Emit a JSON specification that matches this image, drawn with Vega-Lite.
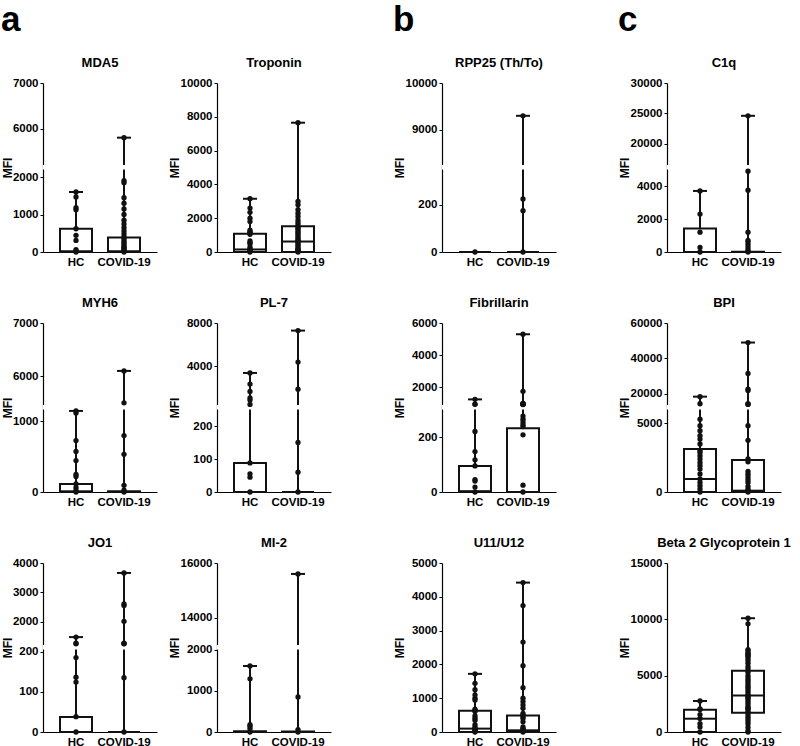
{
"$schema":"https://vega.github.io/schema/vega-lite/v6.json",
"padding":{"left":1,"top":3,"right":0,"bottom":0},
"spacing":62,
"data":{"values":[
{"p":"MDA5","g":"HC","k":"w","y":1600,"y2":0},{"p":"MDA5","g":"HC","k":"b","y":0,"y2":620},{"p":"MDA5","g":"HC","k":"m","y":20},
{"p":"MDA5","g":"COVID-19","k":"w","y":5800,"y2":0},{"p":"MDA5","g":"COVID-19","k":"b","y":0,"y2":390},{"p":"MDA5","g":"COVID-19","k":"m","y":20},
{"p":"MDA5","k":"x","y":2200,"y2":5200},
{"p":"MDA5","g":"HC","k":"p","y":1600},{"p":"MDA5","g":"HC","k":"p","y":1470},{"p":"MDA5","g":"HC","k":"p","y":1180},{"p":"MDA5","g":"HC","k":"p","y":1130},{"p":"MDA5","g":"HC","k":"p","y":620},{"p":"MDA5","g":"HC","k":"p","y":445},{"p":"MDA5","g":"HC","k":"p","y":310},{"p":"MDA5","g":"HC","k":"p","y":60},{"p":"MDA5","g":"HC","k":"p","y":30},{"p":"MDA5","g":"HC","k":"p","y":0},
{"p":"MDA5","g":"COVID-19","k":"p","y":5800},{"p":"MDA5","g":"COVID-19","k":"p","y":1900},{"p":"MDA5","g":"COVID-19","k":"p","y":1850},{"p":"MDA5","g":"COVID-19","k":"p","y":1450},{"p":"MDA5","g":"COVID-19","k":"p","y":1300},{"p":"MDA5","g":"COVID-19","k":"p","y":1150},{"p":"MDA5","g":"COVID-19","k":"p","y":1000},{"p":"MDA5","g":"COVID-19","k":"p","y":850},{"p":"MDA5","g":"COVID-19","k":"p","y":750},{"p":"MDA5","g":"COVID-19","k":"p","y":650},{"p":"MDA5","g":"COVID-19","k":"p","y":560},{"p":"MDA5","g":"COVID-19","k":"p","y":480},{"p":"MDA5","g":"COVID-19","k":"p","y":400},{"p":"MDA5","g":"COVID-19","k":"p","y":360},{"p":"MDA5","g":"COVID-19","k":"p","y":300},{"p":"MDA5","g":"COVID-19","k":"p","y":250},{"p":"MDA5","g":"COVID-19","k":"p","y":200},{"p":"MDA5","g":"COVID-19","k":"p","y":150},{"p":"MDA5","g":"COVID-19","k":"p","y":120},{"p":"MDA5","g":"COVID-19","k":"p","y":90},{"p":"MDA5","g":"COVID-19","k":"p","y":60},{"p":"MDA5","g":"COVID-19","k":"p","y":30},{"p":"MDA5","g":"COVID-19","k":"p","y":0},

{"p":"Troponin","g":"HC","k":"w","y":3150,"y2":0},{"p":"Troponin","g":"HC","k":"b","y":0,"y2":1080},{"p":"Troponin","g":"HC","k":"m","y":150},
{"p":"Troponin","g":"COVID-19","k":"w","y":7650,"y2":0},{"p":"Troponin","g":"COVID-19","k":"b","y":0,"y2":1520},{"p":"Troponin","g":"COVID-19","k":"m","y":620},
{"p":"Troponin","g":"HC","k":"p","y":3150},{"p":"Troponin","g":"HC","k":"p","y":2600},{"p":"Troponin","g":"HC","k":"p","y":2350},{"p":"Troponin","g":"HC","k":"p","y":2000},{"p":"Troponin","g":"HC","k":"p","y":1800},{"p":"Troponin","g":"HC","k":"p","y":1300},{"p":"Troponin","g":"HC","k":"p","y":1200},{"p":"Troponin","g":"HC","k":"p","y":1150},{"p":"Troponin","g":"HC","k":"p","y":1050},{"p":"Troponin","g":"HC","k":"p","y":650},{"p":"Troponin","g":"HC","k":"p","y":550},{"p":"Troponin","g":"HC","k":"p","y":500},{"p":"Troponin","g":"HC","k":"p","y":300},{"p":"Troponin","g":"HC","k":"p","y":200},{"p":"Troponin","g":"HC","k":"p","y":100},{"p":"Troponin","g":"HC","k":"p","y":50},{"p":"Troponin","g":"HC","k":"p","y":0},
{"p":"Troponin","g":"COVID-19","k":"p","y":7650},{"p":"Troponin","g":"COVID-19","k":"p","y":3000},{"p":"Troponin","g":"COVID-19","k":"p","y":2800},{"p":"Troponin","g":"COVID-19","k":"p","y":2500},{"p":"Troponin","g":"COVID-19","k":"p","y":2300},{"p":"Troponin","g":"COVID-19","k":"p","y":2100},{"p":"Troponin","g":"COVID-19","k":"p","y":1900},{"p":"Troponin","g":"COVID-19","k":"p","y":1750},{"p":"Troponin","g":"COVID-19","k":"p","y":1600},{"p":"Troponin","g":"COVID-19","k":"p","y":1500},{"p":"Troponin","g":"COVID-19","k":"p","y":1400},{"p":"Troponin","g":"COVID-19","k":"p","y":1300},{"p":"Troponin","g":"COVID-19","k":"p","y":1200},{"p":"Troponin","g":"COVID-19","k":"p","y":1100},{"p":"Troponin","g":"COVID-19","k":"p","y":1000},{"p":"Troponin","g":"COVID-19","k":"p","y":900},{"p":"Troponin","g":"COVID-19","k":"p","y":800},{"p":"Troponin","g":"COVID-19","k":"p","y":700},{"p":"Troponin","g":"COVID-19","k":"p","y":650},{"p":"Troponin","g":"COVID-19","k":"p","y":600},{"p":"Troponin","g":"COVID-19","k":"p","y":500},{"p":"Troponin","g":"COVID-19","k":"p","y":400},{"p":"Troponin","g":"COVID-19","k":"p","y":300},{"p":"Troponin","g":"COVID-19","k":"p","y":200},{"p":"Troponin","g":"COVID-19","k":"p","y":150},{"p":"Troponin","g":"COVID-19","k":"p","y":100},{"p":"Troponin","g":"COVID-19","k":"p","y":50},{"p":"Troponin","g":"COVID-19","k":"p","y":0},

{"p":"RPP25 (Th/To)","g":"HC","k":"w","y":0,"y2":0},{"p":"RPP25 (Th/To)","g":"HC","k":"b","y":0,"y2":0},{"p":"RPP25 (Th/To)","g":"HC","k":"m","y":0},
{"p":"RPP25 (Th/To)","g":"COVID-19","k":"w","y":9300,"y2":0},{"p":"RPP25 (Th/To)","g":"COVID-19","k":"b","y":0,"y2":0},{"p":"RPP25 (Th/To)","g":"COVID-19","k":"m","y":0},
{"p":"RPP25 (Th/To)","k":"x","y":350,"y2":8250},
{"p":"RPP25 (Th/To)","g":"HC","k":"p","y":0},
{"p":"RPP25 (Th/To)","g":"COVID-19","k":"p","y":9300},{"p":"RPP25 (Th/To)","g":"COVID-19","k":"p","y":225},{"p":"RPP25 (Th/To)","g":"COVID-19","k":"p","y":175},{"p":"RPP25 (Th/To)","g":"COVID-19","k":"p","y":0},

{"p":"C1q","g":"HC","k":"w","y":3700,"y2":0},{"p":"C1q","g":"HC","k":"b","y":0,"y2":1420},{"p":"C1q","g":"HC","k":"m","y":0},
{"p":"C1q","g":"COVID-19","k":"w","y":24600,"y2":0},{"p":"C1q","g":"COVID-19","k":"b","y":0,"y2":20},{"p":"C1q","g":"COVID-19","k":"m","y":0},
{"p":"C1q","k":"x","y":5000,"y2":16500},
{"p":"C1q","g":"HC","k":"p","y":3700},{"p":"C1q","g":"HC","k":"p","y":2300},{"p":"C1q","g":"HC","k":"p","y":1200},{"p":"C1q","g":"HC","k":"p","y":280},{"p":"C1q","g":"HC","k":"p","y":0},
{"p":"C1q","g":"COVID-19","k":"p","y":24600},{"p":"C1q","g":"COVID-19","k":"p","y":4900},{"p":"C1q","g":"COVID-19","k":"p","y":3750},{"p":"C1q","g":"COVID-19","k":"p","y":1200},{"p":"C1q","g":"COVID-19","k":"p","y":700},{"p":"C1q","g":"COVID-19","k":"p","y":600},{"p":"C1q","g":"COVID-19","k":"p","y":450},{"p":"C1q","g":"COVID-19","k":"p","y":300},{"p":"C1q","g":"COVID-19","k":"p","y":150},{"p":"C1q","g":"COVID-19","k":"p","y":50},{"p":"C1q","g":"COVID-19","k":"p","y":0},

{"p":"MYH6","g":"HC","k":"w","y":1150,"y2":0},{"p":"MYH6","g":"HC","k":"b","y":0,"y2":115},{"p":"MYH6","g":"HC","k":"m","y":10},
{"p":"MYH6","g":"COVID-19","k":"w","y":6100,"y2":0},{"p":"MYH6","g":"COVID-19","k":"b","y":0,"y2":10},{"p":"MYH6","g":"COVID-19","k":"m","y":0},
{"p":"MYH6","k":"x","y":1170,"y2":5460},
{"p":"MYH6","g":"HC","k":"p","y":1150},{"p":"MYH6","g":"HC","k":"p","y":1120},{"p":"MYH6","g":"HC","k":"p","y":730},{"p":"MYH6","g":"HC","k":"p","y":575},{"p":"MYH6","g":"HC","k":"p","y":445},{"p":"MYH6","g":"HC","k":"p","y":250},{"p":"MYH6","g":"HC","k":"p","y":220},{"p":"MYH6","g":"HC","k":"p","y":115},{"p":"MYH6","g":"HC","k":"p","y":60},{"p":"MYH6","g":"HC","k":"p","y":20},{"p":"MYH6","g":"HC","k":"p","y":0},
{"p":"MYH6","g":"COVID-19","k":"p","y":6100},{"p":"MYH6","g":"COVID-19","k":"p","y":5500},{"p":"MYH6","g":"COVID-19","k":"p","y":800},{"p":"MYH6","g":"COVID-19","k":"p","y":535},{"p":"MYH6","g":"COVID-19","k":"p","y":95},{"p":"MYH6","g":"COVID-19","k":"p","y":25},{"p":"MYH6","g":"COVID-19","k":"p","y":0},

{"p":"PL-7","g":"HC","k":"w","y":3400,"y2":0},{"p":"PL-7","g":"HC","k":"b","y":0,"y2":88},{"p":"PL-7","g":"HC","k":"m","y":0},
{"p":"PL-7","g":"COVID-19","k":"w","y":7300,"y2":0},{"p":"PL-7","g":"COVID-19","k":"b","y":0,"y2":0},{"p":"PL-7","g":"COVID-19","k":"m","y":0},
{"p":"PL-7","k":"x","y":250,"y2":450},
{"p":"PL-7","g":"HC","k":"p","y":3400},{"p":"PL-7","g":"HC","k":"p","y":2380},{"p":"PL-7","g":"HC","k":"p","y":1700},{"p":"PL-7","g":"HC","k":"p","y":1100},{"p":"PL-7","g":"HC","k":"p","y":900},{"p":"PL-7","g":"HC","k":"p","y":500},{"p":"PL-7","g":"HC","k":"p","y":88},{"p":"PL-7","g":"HC","k":"p","y":55},{"p":"PL-7","g":"HC","k":"p","y":45},{"p":"PL-7","g":"HC","k":"p","y":0},
{"p":"PL-7","g":"COVID-19","k":"p","y":7300},{"p":"PL-7","g":"COVID-19","k":"p","y":4400},{"p":"PL-7","g":"COVID-19","k":"p","y":1900},{"p":"PL-7","g":"COVID-19","k":"p","y":150},{"p":"PL-7","g":"COVID-19","k":"p","y":60},{"p":"PL-7","g":"COVID-19","k":"p","y":0},

{"p":"Fibrillarin","g":"HC","k":"w","y":1250,"y2":0},{"p":"Fibrillarin","g":"HC","k":"b","y":0,"y2":95},{"p":"Fibrillarin","g":"HC","k":"m","y":3},
{"p":"Fibrillarin","g":"COVID-19","k":"w","y":5300,"y2":0},{"p":"Fibrillarin","g":"COVID-19","k":"b","y":0,"y2":232},{"p":"Fibrillarin","g":"COVID-19","k":"m","y":0},
{"p":"Fibrillarin","k":"x","y":300,"y2":900},
{"p":"Fibrillarin","g":"HC","k":"p","y":1250},{"p":"Fibrillarin","g":"HC","k":"p","y":960},{"p":"Fibrillarin","g":"HC","k":"p","y":940},{"p":"Fibrillarin","g":"HC","k":"p","y":220},{"p":"Fibrillarin","g":"HC","k":"p","y":147},{"p":"Fibrillarin","g":"HC","k":"p","y":117},{"p":"Fibrillarin","g":"HC","k":"p","y":95},{"p":"Fibrillarin","g":"HC","k":"p","y":45},{"p":"Fibrillarin","g":"HC","k":"p","y":40},{"p":"Fibrillarin","g":"HC","k":"p","y":18},{"p":"Fibrillarin","g":"HC","k":"p","y":0},
{"p":"Fibrillarin","g":"COVID-19","k":"p","y":5300},{"p":"Fibrillarin","g":"COVID-19","k":"p","y":1750},{"p":"Fibrillarin","g":"COVID-19","k":"p","y":1000},{"p":"Fibrillarin","g":"COVID-19","k":"p","y":980},{"p":"Fibrillarin","g":"COVID-19","k":"p","y":960},{"p":"Fibrillarin","g":"COVID-19","k":"p","y":950},{"p":"Fibrillarin","g":"COVID-19","k":"p","y":940},{"p":"Fibrillarin","g":"COVID-19","k":"p","y":930},{"p":"Fibrillarin","g":"COVID-19","k":"p","y":276},{"p":"Fibrillarin","g":"COVID-19","k":"p","y":265},{"p":"Fibrillarin","g":"COVID-19","k":"p","y":255},{"p":"Fibrillarin","g":"COVID-19","k":"p","y":245},{"p":"Fibrillarin","g":"COVID-19","k":"p","y":238},{"p":"Fibrillarin","g":"COVID-19","k":"p","y":208},{"p":"Fibrillarin","g":"COVID-19","k":"p","y":25},{"p":"Fibrillarin","g":"COVID-19","k":"p","y":0},

{"p":"BPI","g":"HC","k":"w","y":18500,"y2":0},{"p":"BPI","g":"HC","k":"b","y":0,"y2":3130},{"p":"BPI","g":"HC","k":"m","y":945},
{"p":"BPI","g":"COVID-19","k":"w","y":49000,"y2":0},{"p":"BPI","g":"COVID-19","k":"b","y":0,"y2":2330},{"p":"BPI","g":"COVID-19","k":"m","y":95},
{"p":"BPI","k":"x","y":6000,"y2":13800},
{"p":"BPI","g":"HC","k":"p","y":18500},{"p":"BPI","g":"HC","k":"p","y":14500},{"p":"BPI","g":"HC","k":"p","y":5300},{"p":"BPI","g":"HC","k":"p","y":4820},{"p":"BPI","g":"HC","k":"p","y":4460},{"p":"BPI","g":"HC","k":"p","y":4100},{"p":"BPI","g":"HC","k":"p","y":3850},{"p":"BPI","g":"HC","k":"p","y":3490},{"p":"BPI","g":"HC","k":"p","y":3000},{"p":"BPI","g":"HC","k":"p","y":2880},{"p":"BPI","g":"HC","k":"p","y":2640},{"p":"BPI","g":"HC","k":"p","y":2400},{"p":"BPI","g":"HC","k":"p","y":2150},{"p":"BPI","g":"HC","k":"p","y":1910},{"p":"BPI","g":"HC","k":"p","y":1670},{"p":"BPI","g":"HC","k":"p","y":1310},{"p":"BPI","g":"HC","k":"p","y":945},{"p":"BPI","g":"HC","k":"p","y":700},{"p":"BPI","g":"HC","k":"p","y":460},{"p":"BPI","g":"HC","k":"p","y":220},{"p":"BPI","g":"HC","k":"p","y":0},
{"p":"BPI","g":"COVID-19","k":"p","y":49000},{"p":"BPI","g":"COVID-19","k":"p","y":31600},{"p":"BPI","g":"COVID-19","k":"p","y":22800},{"p":"BPI","g":"COVID-19","k":"p","y":22000},{"p":"BPI","g":"COVID-19","k":"p","y":14500},{"p":"BPI","g":"COVID-19","k":"p","y":14300},{"p":"BPI","g":"COVID-19","k":"p","y":14100},{"p":"BPI","g":"COVID-19","k":"p","y":4820},{"p":"BPI","g":"COVID-19","k":"p","y":3760},{"p":"BPI","g":"COVID-19","k":"p","y":2400},{"p":"BPI","g":"COVID-19","k":"p","y":2200},{"p":"BPI","g":"COVID-19","k":"p","y":1500},{"p":"BPI","g":"COVID-19","k":"p","y":1300},{"p":"BPI","g":"COVID-19","k":"p","y":1100},{"p":"BPI","g":"COVID-19","k":"p","y":900},{"p":"BPI","g":"COVID-19","k":"p","y":700},{"p":"BPI","g":"COVID-19","k":"p","y":400},{"p":"BPI","g":"COVID-19","k":"p","y":200},{"p":"BPI","g":"COVID-19","k":"p","y":95},{"p":"BPI","g":"COVID-19","k":"p","y":0},

{"p":"JO1","g":"HC","k":"w","y":1470,"y2":0},{"p":"JO1","g":"HC","k":"b","y":0,"y2":37},{"p":"JO1","g":"HC","k":"m","y":0},
{"p":"JO1","g":"COVID-19","k":"w","y":3660,"y2":0},{"p":"JO1","g":"COVID-19","k":"b","y":0,"y2":0},{"p":"JO1","g":"COVID-19","k":"m","y":0},
{"p":"JO1","k":"x","y":205,"y2":1200},
{"p":"JO1","g":"HC","k":"p","y":1470},{"p":"JO1","g":"HC","k":"p","y":1260},{"p":"JO1","g":"HC","k":"p","y":1240},{"p":"JO1","g":"HC","k":"p","y":185},{"p":"JO1","g":"HC","k":"p","y":136},{"p":"JO1","g":"HC","k":"p","y":124},{"p":"JO1","g":"HC","k":"p","y":38},{"p":"JO1","g":"HC","k":"p","y":0},
{"p":"JO1","g":"COVID-19","k":"p","y":3660},{"p":"JO1","g":"COVID-19","k":"p","y":2600},{"p":"JO1","g":"COVID-19","k":"p","y":2550},{"p":"JO1","g":"COVID-19","k":"p","y":2007},{"p":"JO1","g":"COVID-19","k":"p","y":1260},{"p":"JO1","g":"COVID-19","k":"p","y":1250},{"p":"JO1","g":"COVID-19","k":"p","y":1240},{"p":"JO1","g":"COVID-19","k":"p","y":135},{"p":"JO1","g":"COVID-19","k":"p","y":0},

{"p":"MI-2","g":"HC","k":"w","y":1600,"y2":0},{"p":"MI-2","g":"HC","k":"b","y":0,"y2":20},{"p":"MI-2","g":"HC","k":"m","y":0},
{"p":"MI-2","g":"COVID-19","k":"w","y":15600,"y2":0},{"p":"MI-2","g":"COVID-19","k":"b","y":0,"y2":15},{"p":"MI-2","g":"COVID-19","k":"m","y":0},
{"p":"MI-2","k":"x","y":2000,"y2":13000},
{"p":"MI-2","g":"HC","k":"p","y":1600},{"p":"MI-2","g":"HC","k":"p","y":1290},{"p":"MI-2","g":"HC","k":"p","y":177},{"p":"MI-2","g":"HC","k":"p","y":140},{"p":"MI-2","g":"HC","k":"p","y":80},{"p":"MI-2","g":"HC","k":"p","y":0},
{"p":"MI-2","g":"COVID-19","k":"p","y":15600},{"p":"MI-2","g":"COVID-19","k":"p","y":850},{"p":"MI-2","g":"COVID-19","k":"p","y":60},{"p":"MI-2","g":"COVID-19","k":"p","y":0},

{"p":"U11/U12","g":"HC","k":"w","y":1720,"y2":0},{"p":"U11/U12","g":"HC","k":"b","y":0,"y2":626},{"p":"U11/U12","g":"HC","k":"m","y":100},
{"p":"U11/U12","g":"COVID-19","k":"w","y":4420,"y2":0},{"p":"U11/U12","g":"COVID-19","k":"b","y":0,"y2":490},{"p":"U11/U12","g":"COVID-19","k":"m","y":50},
{"p":"U11/U12","g":"HC","k":"p","y":1720},{"p":"U11/U12","g":"HC","k":"p","y":1440},{"p":"U11/U12","g":"HC","k":"p","y":1250},{"p":"U11/U12","g":"HC","k":"p","y":1100},{"p":"U11/U12","g":"HC","k":"p","y":1000},{"p":"U11/U12","g":"HC","k":"p","y":950},{"p":"U11/U12","g":"HC","k":"p","y":676},{"p":"U11/U12","g":"HC","k":"p","y":640},{"p":"U11/U12","g":"HC","k":"p","y":605},{"p":"U11/U12","g":"HC","k":"p","y":480},{"p":"U11/U12","g":"HC","k":"p","y":410},{"p":"U11/U12","g":"HC","k":"p","y":350},{"p":"U11/U12","g":"HC","k":"p","y":215},{"p":"U11/U12","g":"HC","k":"p","y":150},{"p":"U11/U12","g":"HC","k":"p","y":100},{"p":"U11/U12","g":"HC","k":"p","y":80},{"p":"U11/U12","g":"HC","k":"p","y":50},{"p":"U11/U12","g":"HC","k":"p","y":20},{"p":"U11/U12","g":"HC","k":"p","y":0},
{"p":"U11/U12","g":"COVID-19","k":"p","y":4420},{"p":"U11/U12","g":"COVID-19","k":"p","y":3740},{"p":"U11/U12","g":"COVID-19","k":"p","y":2660},{"p":"U11/U12","g":"COVID-19","k":"p","y":1960},{"p":"U11/U12","g":"COVID-19","k":"p","y":1310},{"p":"U11/U12","g":"COVID-19","k":"p","y":1000},{"p":"U11/U12","g":"COVID-19","k":"p","y":900},{"p":"U11/U12","g":"COVID-19","k":"p","y":800},{"p":"U11/U12","g":"COVID-19","k":"p","y":700},{"p":"U11/U12","g":"COVID-19","k":"p","y":550},{"p":"U11/U12","g":"COVID-19","k":"p","y":500},{"p":"U11/U12","g":"COVID-19","k":"p","y":450},{"p":"U11/U12","g":"COVID-19","k":"p","y":400},{"p":"U11/U12","g":"COVID-19","k":"p","y":300},{"p":"U11/U12","g":"COVID-19","k":"p","y":150},{"p":"U11/U12","g":"COVID-19","k":"p","y":100},{"p":"U11/U12","g":"COVID-19","k":"p","y":80},{"p":"U11/U12","g":"COVID-19","k":"p","y":40},{"p":"U11/U12","g":"COVID-19","k":"p","y":0},

{"p":"Beta 2 Glycoprotein 1","g":"HC","k":"w","y":2750,"y2":0},{"p":"Beta 2 Glycoprotein 1","g":"HC","k":"b","y":0,"y2":1975},{"p":"Beta 2 Glycoprotein 1","g":"HC","k":"m","y":1180},
{"p":"Beta 2 Glycoprotein 1","g":"COVID-19","k":"w","y":10100,"y2":0},{"p":"Beta 2 Glycoprotein 1","g":"COVID-19","k":"b","y":1710,"y2":5440},{"p":"Beta 2 Glycoprotein 1","g":"COVID-19","k":"m","y":3240},
{"p":"Beta 2 Glycoprotein 1","g":"HC","k":"p","y":2750},{"p":"Beta 2 Glycoprotein 1","g":"HC","k":"p","y":2050},{"p":"Beta 2 Glycoprotein 1","g":"HC","k":"p","y":2000},{"p":"Beta 2 Glycoprotein 1","g":"HC","k":"p","y":1550},{"p":"Beta 2 Glycoprotein 1","g":"HC","k":"p","y":1200},{"p":"Beta 2 Glycoprotein 1","g":"HC","k":"p","y":750},{"p":"Beta 2 Glycoprotein 1","g":"HC","k":"p","y":450},{"p":"Beta 2 Glycoprotein 1","g":"HC","k":"p","y":0},
{"p":"Beta 2 Glycoprotein 1","g":"COVID-19","k":"p","y":10100},{"p":"Beta 2 Glycoprotein 1","g":"COVID-19","k":"p","y":9600},{"p":"Beta 2 Glycoprotein 1","g":"COVID-19","k":"p","y":7300},{"p":"Beta 2 Glycoprotein 1","g":"COVID-19","k":"p","y":7200},{"p":"Beta 2 Glycoprotein 1","g":"COVID-19","k":"p","y":7000},{"p":"Beta 2 Glycoprotein 1","g":"COVID-19","k":"p","y":6900},{"p":"Beta 2 Glycoprotein 1","g":"COVID-19","k":"p","y":6800},{"p":"Beta 2 Glycoprotein 1","g":"COVID-19","k":"p","y":6700},{"p":"Beta 2 Glycoprotein 1","g":"COVID-19","k":"p","y":6500},{"p":"Beta 2 Glycoprotein 1","g":"COVID-19","k":"p","y":6300},{"p":"Beta 2 Glycoprotein 1","g":"COVID-19","k":"p","y":6100},{"p":"Beta 2 Glycoprotein 1","g":"COVID-19","k":"p","y":5800},{"p":"Beta 2 Glycoprotein 1","g":"COVID-19","k":"p","y":5600},{"p":"Beta 2 Glycoprotein 1","g":"COVID-19","k":"p","y":5300},{"p":"Beta 2 Glycoprotein 1","g":"COVID-19","k":"p","y":5000},{"p":"Beta 2 Glycoprotein 1","g":"COVID-19","k":"p","y":4800},{"p":"Beta 2 Glycoprotein 1","g":"COVID-19","k":"p","y":4600},{"p":"Beta 2 Glycoprotein 1","g":"COVID-19","k":"p","y":4400},{"p":"Beta 2 Glycoprotein 1","g":"COVID-19","k":"p","y":4200},{"p":"Beta 2 Glycoprotein 1","g":"COVID-19","k":"p","y":4000},{"p":"Beta 2 Glycoprotein 1","g":"COVID-19","k":"p","y":3900},{"p":"Beta 2 Glycoprotein 1","g":"COVID-19","k":"p","y":3700},{"p":"Beta 2 Glycoprotein 1","g":"COVID-19","k":"p","y":3500},{"p":"Beta 2 Glycoprotein 1","g":"COVID-19","k":"p","y":3300},{"p":"Beta 2 Glycoprotein 1","g":"COVID-19","k":"p","y":3200},{"p":"Beta 2 Glycoprotein 1","g":"COVID-19","k":"p","y":3100},{"p":"Beta 2 Glycoprotein 1","g":"COVID-19","k":"p","y":3000},{"p":"Beta 2 Glycoprotein 1","g":"COVID-19","k":"p","y":2800},{"p":"Beta 2 Glycoprotein 1","g":"COVID-19","k":"p","y":2600},{"p":"Beta 2 Glycoprotein 1","g":"COVID-19","k":"p","y":2400},{"p":"Beta 2 Glycoprotein 1","g":"COVID-19","k":"p","y":2200},{"p":"Beta 2 Glycoprotein 1","g":"COVID-19","k":"p","y":2100},{"p":"Beta 2 Glycoprotein 1","g":"COVID-19","k":"p","y":2000},{"p":"Beta 2 Glycoprotein 1","g":"COVID-19","k":"p","y":1800},{"p":"Beta 2 Glycoprotein 1","g":"COVID-19","k":"p","y":1700},{"p":"Beta 2 Glycoprotein 1","g":"COVID-19","k":"p","y":1500},{"p":"Beta 2 Glycoprotein 1","g":"COVID-19","k":"p","y":1300},{"p":"Beta 2 Glycoprotein 1","g":"COVID-19","k":"p","y":1100},{"p":"Beta 2 Glycoprotein 1","g":"COVID-19","k":"p","y":900},{"p":"Beta 2 Glycoprotein 1","g":"COVID-19","k":"p","y":700},{"p":"Beta 2 Glycoprotein 1","g":"COVID-19","k":"p","y":400},{"p":"Beta 2 Glycoprotein 1","g":"COVID-19","k":"p","y":100},{"p":"Beta 2 Glycoprotein 1","g":"COVID-19","k":"p","y":0}
]},
"hconcat":[
{"title":{"text":"a","anchor":"start","frame":"bounds","fontSize":35,"baseline":"top","offset":19},
 "columns":2,"align":"each","spacing":{"column":11,"row":29},
 "concat":[
 {"title":"MDA5","width":114,"height":169,"transform":[{"filter":{"field":"p","equal":"MDA5"}}],
  "encoding":{"y":{"field":"y","type":"quantitative","title":"MFI","scale":{"domain":[0,2200,5200,7000],"range":[169,86.5,82,0],"nice":false,"zero":false},"axis":{"values":[0,1000,2000,6000,7000],"format":"d","titlePadding":-7}}},
  "layer":[
   {"transform":[{"filter":{"field":"k","equal":"w"}}],"mark":{"type":"rule","strokeWidth":2,"color":"#111"},"encoding":{"x":{"field":"g","type":"nominal","title":null,"sort":["HC","COVID-19"],"scale":{"type":"band","paddingInner":0,"paddingOuter":0.1875}},"y2":{"field":"y2"}}},
   {"transform":[{"filter":{"field":"k","equal":"b"}}],"mark":{"type":"bar","size":32,"fill":"#fff","stroke":"#111","strokeWidth":2},"encoding":{"x":{"field":"g","type":"nominal","title":null,"sort":["HC","COVID-19"],"scale":{"type":"band","paddingInner":0,"paddingOuter":0.1875}},"y2":{"field":"y2"}}},
   {"transform":[{"filter":{"field":"k","equal":"m"}}],"mark":{"type":"tick","size":32,"thickness":2,"color":"#111","opacity":1},"encoding":{"x":{"field":"g","type":"nominal","title":null,"sort":["HC","COVID-19"],"scale":{"type":"band","paddingInner":0,"paddingOuter":0.1875}}}},
   {"transform":[{"filter":{"field":"k","equal":"w"}}],"mark":{"type":"tick","size":14,"thickness":2,"color":"#111","opacity":1},"encoding":{"x":{"field":"g","type":"nominal","title":null,"sort":["HC","COVID-19"],"scale":{"type":"band","paddingInner":0,"paddingOuter":0.1875}}}},
   {"transform":[{"filter":{"field":"k","equal":"x"}}],"mark":{"type":"rect","color":"#fff"},"encoding":{"y2":{"field":"y2"}}},
   {"transform":[{"filter":{"field":"k","equal":"p"}}],"mark":{"type":"circle","size":28,"color":"#111","opacity":1},"encoding":{"x":{"field":"g","type":"nominal","title":null,"sort":["HC","COVID-19"],"scale":{"type":"band","paddingInner":0,"paddingOuter":0.1875}}}}
  ]},
 {"title":"Troponin","width":114,"height":169,"transform":[{"filter":{"field":"p","equal":"Troponin"}}],
  "encoding":{"y":{"field":"y","type":"quantitative","title":"MFI","scale":{"domain":[0,10000],"range":[169,0],"nice":false,"zero":false},"axis":{"values":[0,2000,4000,6000,8000,10000],"format":"d"}}},
  "layer":[
   {"transform":[{"filter":{"field":"k","equal":"w"}}],"mark":{"type":"rule","strokeWidth":2,"color":"#111"},"encoding":{"x":{"field":"g","type":"nominal","title":null,"sort":["HC","COVID-19"],"scale":{"type":"band","paddingInner":0,"paddingOuter":0.1875}},"y2":{"field":"y2"}}},
   {"transform":[{"filter":{"field":"k","equal":"b"}}],"mark":{"type":"bar","size":32,"fill":"#fff","stroke":"#111","strokeWidth":2},"encoding":{"x":{"field":"g","type":"nominal","title":null,"sort":["HC","COVID-19"],"scale":{"type":"band","paddingInner":0,"paddingOuter":0.1875}},"y2":{"field":"y2"}}},
   {"transform":[{"filter":{"field":"k","equal":"m"}}],"mark":{"type":"tick","size":32,"thickness":2,"color":"#111","opacity":1},"encoding":{"x":{"field":"g","type":"nominal","title":null,"sort":["HC","COVID-19"],"scale":{"type":"band","paddingInner":0,"paddingOuter":0.1875}}}},
   {"transform":[{"filter":{"field":"k","equal":"w"}}],"mark":{"type":"tick","size":14,"thickness":2,"color":"#111","opacity":1},"encoding":{"x":{"field":"g","type":"nominal","title":null,"sort":["HC","COVID-19"],"scale":{"type":"band","paddingInner":0,"paddingOuter":0.1875}}}},
   {"transform":[{"filter":{"field":"k","equal":"x"}}],"mark":{"type":"rect","color":"#fff"},"encoding":{"y2":{"field":"y2"}}},
   {"transform":[{"filter":{"field":"k","equal":"p"}}],"mark":{"type":"circle","size":28,"color":"#111","opacity":1},"encoding":{"x":{"field":"g","type":"nominal","title":null,"sort":["HC","COVID-19"],"scale":{"type":"band","paddingInner":0,"paddingOuter":0.1875}}}}
  ]},
 {"title":"MYH6","width":114,"height":169,"transform":[{"filter":{"field":"p","equal":"MYH6"}}],
  "encoding":{"y":{"field":"y","type":"quantitative","title":"MFI","scale":{"domain":[0,1170,5460,7000],"range":[169,86.5,82,0],"nice":false,"zero":false},"axis":{"values":[0,1000,6000,7000],"format":"d","titlePadding":-7}}},
  "layer":[
   {"transform":[{"filter":{"field":"k","equal":"w"}}],"mark":{"type":"rule","strokeWidth":2,"color":"#111"},"encoding":{"x":{"field":"g","type":"nominal","title":null,"sort":["HC","COVID-19"],"scale":{"type":"band","paddingInner":0,"paddingOuter":0.1875}},"y2":{"field":"y2"}}},
   {"transform":[{"filter":{"field":"k","equal":"b"}}],"mark":{"type":"bar","size":32,"fill":"#fff","stroke":"#111","strokeWidth":2},"encoding":{"x":{"field":"g","type":"nominal","title":null,"sort":["HC","COVID-19"],"scale":{"type":"band","paddingInner":0,"paddingOuter":0.1875}},"y2":{"field":"y2"}}},
   {"transform":[{"filter":{"field":"k","equal":"m"}}],"mark":{"type":"tick","size":32,"thickness":2,"color":"#111","opacity":1},"encoding":{"x":{"field":"g","type":"nominal","title":null,"sort":["HC","COVID-19"],"scale":{"type":"band","paddingInner":0,"paddingOuter":0.1875}}}},
   {"transform":[{"filter":{"field":"k","equal":"w"}}],"mark":{"type":"tick","size":14,"thickness":2,"color":"#111","opacity":1},"encoding":{"x":{"field":"g","type":"nominal","title":null,"sort":["HC","COVID-19"],"scale":{"type":"band","paddingInner":0,"paddingOuter":0.1875}}}},
   {"transform":[{"filter":{"field":"k","equal":"x"}}],"mark":{"type":"rect","color":"#fff"},"encoding":{"y2":{"field":"y2"}}},
   {"transform":[{"filter":{"field":"k","equal":"p"}}],"mark":{"type":"circle","size":28,"color":"#111","opacity":1},"encoding":{"x":{"field":"g","type":"nominal","title":null,"sort":["HC","COVID-19"],"scale":{"type":"band","paddingInner":0,"paddingOuter":0.1875}}}}
  ]},
 {"title":"PL-7","width":114,"height":169,"transform":[{"filter":{"field":"p","equal":"PL-7"}}],
  "encoding":{"y":{"field":"y","type":"quantitative","title":"MFI","scale":{"domain":[0,250,450,8000],"range":[169,86.5,82,0],"nice":false,"zero":false},"axis":{"values":[0,100,200,4000,8000],"format":"d"}}},
  "layer":[
   {"transform":[{"filter":{"field":"k","equal":"w"}}],"mark":{"type":"rule","strokeWidth":2,"color":"#111"},"encoding":{"x":{"field":"g","type":"nominal","title":null,"sort":["HC","COVID-19"],"scale":{"type":"band","paddingInner":0,"paddingOuter":0.1875}},"y2":{"field":"y2"}}},
   {"transform":[{"filter":{"field":"k","equal":"b"}}],"mark":{"type":"bar","size":32,"fill":"#fff","stroke":"#111","strokeWidth":2},"encoding":{"x":{"field":"g","type":"nominal","title":null,"sort":["HC","COVID-19"],"scale":{"type":"band","paddingInner":0,"paddingOuter":0.1875}},"y2":{"field":"y2"}}},
   {"transform":[{"filter":{"field":"k","equal":"m"}}],"mark":{"type":"tick","size":32,"thickness":2,"color":"#111","opacity":1},"encoding":{"x":{"field":"g","type":"nominal","title":null,"sort":["HC","COVID-19"],"scale":{"type":"band","paddingInner":0,"paddingOuter":0.1875}}}},
   {"transform":[{"filter":{"field":"k","equal":"w"}}],"mark":{"type":"tick","size":14,"thickness":2,"color":"#111","opacity":1},"encoding":{"x":{"field":"g","type":"nominal","title":null,"sort":["HC","COVID-19"],"scale":{"type":"band","paddingInner":0,"paddingOuter":0.1875}}}},
   {"transform":[{"filter":{"field":"k","equal":"x"}}],"mark":{"type":"rect","color":"#fff"},"encoding":{"y2":{"field":"y2"}}},
   {"transform":[{"filter":{"field":"k","equal":"p"}}],"mark":{"type":"circle","size":28,"color":"#111","opacity":1},"encoding":{"x":{"field":"g","type":"nominal","title":null,"sort":["HC","COVID-19"],"scale":{"type":"band","paddingInner":0,"paddingOuter":0.1875}}}}
  ]},
 {"title":"JO1","width":114,"height":169,"transform":[{"filter":{"field":"p","equal":"JO1"}}],
  "encoding":{"y":{"field":"y","type":"quantitative","title":"MFI","scale":{"domain":[0,205,1200,4000],"range":[169,86.5,82,0],"nice":false,"zero":false},"axis":{"values":[0,100,200,2000,3000,4000],"format":"d","titlePadding":-7}}},
  "layer":[
   {"transform":[{"filter":{"field":"k","equal":"w"}}],"mark":{"type":"rule","strokeWidth":2,"color":"#111"},"encoding":{"x":{"field":"g","type":"nominal","title":null,"sort":["HC","COVID-19"],"scale":{"type":"band","paddingInner":0,"paddingOuter":0.1875}},"y2":{"field":"y2"}}},
   {"transform":[{"filter":{"field":"k","equal":"b"}}],"mark":{"type":"bar","size":32,"fill":"#fff","stroke":"#111","strokeWidth":2},"encoding":{"x":{"field":"g","type":"nominal","title":null,"sort":["HC","COVID-19"],"scale":{"type":"band","paddingInner":0,"paddingOuter":0.1875}},"y2":{"field":"y2"}}},
   {"transform":[{"filter":{"field":"k","equal":"m"}}],"mark":{"type":"tick","size":32,"thickness":2,"color":"#111","opacity":1},"encoding":{"x":{"field":"g","type":"nominal","title":null,"sort":["HC","COVID-19"],"scale":{"type":"band","paddingInner":0,"paddingOuter":0.1875}}}},
   {"transform":[{"filter":{"field":"k","equal":"w"}}],"mark":{"type":"tick","size":14,"thickness":2,"color":"#111","opacity":1},"encoding":{"x":{"field":"g","type":"nominal","title":null,"sort":["HC","COVID-19"],"scale":{"type":"band","paddingInner":0,"paddingOuter":0.1875}}}},
   {"transform":[{"filter":{"field":"k","equal":"x"}}],"mark":{"type":"rect","color":"#fff"},"encoding":{"y2":{"field":"y2"}}},
   {"transform":[{"filter":{"field":"k","equal":"p"}}],"mark":{"type":"circle","size":28,"color":"#111","opacity":1},"encoding":{"x":{"field":"g","type":"nominal","title":null,"sort":["HC","COVID-19"],"scale":{"type":"band","paddingInner":0,"paddingOuter":0.1875}}}}
  ]},
 {"title":"MI-2","width":114,"height":169,"transform":[{"filter":{"field":"p","equal":"MI-2"}}],
  "encoding":{"y":{"field":"y","type":"quantitative","title":"MFI","scale":{"domain":[0,2000,13000,16000],"range":[169,86.5,82,0],"nice":false,"zero":false},"axis":{"values":[0,1000,2000,14000,16000],"format":"d"}}},
  "layer":[
   {"transform":[{"filter":{"field":"k","equal":"w"}}],"mark":{"type":"rule","strokeWidth":2,"color":"#111"},"encoding":{"x":{"field":"g","type":"nominal","title":null,"sort":["HC","COVID-19"],"scale":{"type":"band","paddingInner":0,"paddingOuter":0.1875}},"y2":{"field":"y2"}}},
   {"transform":[{"filter":{"field":"k","equal":"b"}}],"mark":{"type":"bar","size":32,"fill":"#fff","stroke":"#111","strokeWidth":2},"encoding":{"x":{"field":"g","type":"nominal","title":null,"sort":["HC","COVID-19"],"scale":{"type":"band","paddingInner":0,"paddingOuter":0.1875}},"y2":{"field":"y2"}}},
   {"transform":[{"filter":{"field":"k","equal":"m"}}],"mark":{"type":"tick","size":32,"thickness":2,"color":"#111","opacity":1},"encoding":{"x":{"field":"g","type":"nominal","title":null,"sort":["HC","COVID-19"],"scale":{"type":"band","paddingInner":0,"paddingOuter":0.1875}}}},
   {"transform":[{"filter":{"field":"k","equal":"w"}}],"mark":{"type":"tick","size":14,"thickness":2,"color":"#111","opacity":1},"encoding":{"x":{"field":"g","type":"nominal","title":null,"sort":["HC","COVID-19"],"scale":{"type":"band","paddingInner":0,"paddingOuter":0.1875}}}},
   {"transform":[{"filter":{"field":"k","equal":"x"}}],"mark":{"type":"rect","color":"#fff"},"encoding":{"y2":{"field":"y2"}}},
   {"transform":[{"filter":{"field":"k","equal":"p"}}],"mark":{"type":"circle","size":28,"color":"#111","opacity":1},"encoding":{"x":{"field":"g","type":"nominal","title":null,"sort":["HC","COVID-19"],"scale":{"type":"band","paddingInner":0,"paddingOuter":0.1875}}}}
  ]}
 ]},
{"title":{"text":"b","anchor":"start","frame":"bounds","fontSize":35,"baseline":"top","offset":19},
 "spacing":29,
 "vconcat":[
 {"title":"RPP25 (Th/To)","width":114,"height":169,"transform":[{"filter":{"field":"p","equal":"RPP25 (Th/To)"}}],
  "encoding":{"y":{"field":"y","type":"quantitative","title":"MFI","scale":{"domain":[0,350,8250,10000],"range":[169,86.5,82,0],"nice":false,"zero":false},"axis":{"values":[0,200,9000,10000],"format":"d"}}},
  "layer":[
   {"transform":[{"filter":{"field":"k","equal":"w"}}],"mark":{"type":"rule","strokeWidth":2,"color":"#111"},"encoding":{"x":{"field":"g","type":"nominal","title":null,"sort":["HC","COVID-19"],"scale":{"type":"band","paddingInner":0,"paddingOuter":0.1875}},"y2":{"field":"y2"}}},
   {"transform":[{"filter":{"field":"k","equal":"b"}}],"mark":{"type":"bar","size":32,"fill":"#fff","stroke":"#111","strokeWidth":2},"encoding":{"x":{"field":"g","type":"nominal","title":null,"sort":["HC","COVID-19"],"scale":{"type":"band","paddingInner":0,"paddingOuter":0.1875}},"y2":{"field":"y2"}}},
   {"transform":[{"filter":{"field":"k","equal":"m"}}],"mark":{"type":"tick","size":32,"thickness":2,"color":"#111","opacity":1},"encoding":{"x":{"field":"g","type":"nominal","title":null,"sort":["HC","COVID-19"],"scale":{"type":"band","paddingInner":0,"paddingOuter":0.1875}}}},
   {"transform":[{"filter":{"field":"k","equal":"w"}}],"mark":{"type":"tick","size":14,"thickness":2,"color":"#111","opacity":1},"encoding":{"x":{"field":"g","type":"nominal","title":null,"sort":["HC","COVID-19"],"scale":{"type":"band","paddingInner":0,"paddingOuter":0.1875}}}},
   {"transform":[{"filter":{"field":"k","equal":"x"}}],"mark":{"type":"rect","color":"#fff"},"encoding":{"y2":{"field":"y2"}}},
   {"transform":[{"filter":{"field":"k","equal":"p"}}],"mark":{"type":"circle","size":28,"color":"#111","opacity":1},"encoding":{"x":{"field":"g","type":"nominal","title":null,"sort":["HC","COVID-19"],"scale":{"type":"band","paddingInner":0,"paddingOuter":0.1875}}}}
  ]},
 {"title":"Fibrillarin","width":114,"height":169,"transform":[{"filter":{"field":"p","equal":"Fibrillarin"}}],
  "encoding":{"y":{"field":"y","type":"quantitative","title":"MFI","scale":{"domain":[0,300,900,6000],"range":[169,86.5,82,0],"nice":false,"zero":false},"axis":{"values":[0,200,2000,4000,6000],"format":"d"}}},
  "layer":[
   {"transform":[{"filter":{"field":"k","equal":"w"}}],"mark":{"type":"rule","strokeWidth":2,"color":"#111"},"encoding":{"x":{"field":"g","type":"nominal","title":null,"sort":["HC","COVID-19"],"scale":{"type":"band","paddingInner":0,"paddingOuter":0.1875}},"y2":{"field":"y2"}}},
   {"transform":[{"filter":{"field":"k","equal":"b"}}],"mark":{"type":"bar","size":32,"fill":"#fff","stroke":"#111","strokeWidth":2},"encoding":{"x":{"field":"g","type":"nominal","title":null,"sort":["HC","COVID-19"],"scale":{"type":"band","paddingInner":0,"paddingOuter":0.1875}},"y2":{"field":"y2"}}},
   {"transform":[{"filter":{"field":"k","equal":"m"}}],"mark":{"type":"tick","size":32,"thickness":2,"color":"#111","opacity":1},"encoding":{"x":{"field":"g","type":"nominal","title":null,"sort":["HC","COVID-19"],"scale":{"type":"band","paddingInner":0,"paddingOuter":0.1875}}}},
   {"transform":[{"filter":{"field":"k","equal":"w"}}],"mark":{"type":"tick","size":14,"thickness":2,"color":"#111","opacity":1},"encoding":{"x":{"field":"g","type":"nominal","title":null,"sort":["HC","COVID-19"],"scale":{"type":"band","paddingInner":0,"paddingOuter":0.1875}}}},
   {"transform":[{"filter":{"field":"k","equal":"x"}}],"mark":{"type":"rect","color":"#fff"},"encoding":{"y2":{"field":"y2"}}},
   {"transform":[{"filter":{"field":"k","equal":"p"}}],"mark":{"type":"circle","size":28,"color":"#111","opacity":1},"encoding":{"x":{"field":"g","type":"nominal","title":null,"sort":["HC","COVID-19"],"scale":{"type":"band","paddingInner":0,"paddingOuter":0.1875}}}}
  ]},
 {"title":"U11/U12","width":114,"height":169,"transform":[{"filter":{"field":"p","equal":"U11/U12"}}],
  "encoding":{"y":{"field":"y","type":"quantitative","title":"MFI","scale":{"domain":[0,5000],"range":[169,0],"nice":false,"zero":false},"axis":{"values":[0,1000,2000,3000,4000,5000],"format":"d"}}},
  "layer":[
   {"transform":[{"filter":{"field":"k","equal":"w"}}],"mark":{"type":"rule","strokeWidth":2,"color":"#111"},"encoding":{"x":{"field":"g","type":"nominal","title":null,"sort":["HC","COVID-19"],"scale":{"type":"band","paddingInner":0,"paddingOuter":0.1875}},"y2":{"field":"y2"}}},
   {"transform":[{"filter":{"field":"k","equal":"b"}}],"mark":{"type":"bar","size":32,"fill":"#fff","stroke":"#111","strokeWidth":2},"encoding":{"x":{"field":"g","type":"nominal","title":null,"sort":["HC","COVID-19"],"scale":{"type":"band","paddingInner":0,"paddingOuter":0.1875}},"y2":{"field":"y2"}}},
   {"transform":[{"filter":{"field":"k","equal":"m"}}],"mark":{"type":"tick","size":32,"thickness":2,"color":"#111","opacity":1},"encoding":{"x":{"field":"g","type":"nominal","title":null,"sort":["HC","COVID-19"],"scale":{"type":"band","paddingInner":0,"paddingOuter":0.1875}}}},
   {"transform":[{"filter":{"field":"k","equal":"w"}}],"mark":{"type":"tick","size":14,"thickness":2,"color":"#111","opacity":1},"encoding":{"x":{"field":"g","type":"nominal","title":null,"sort":["HC","COVID-19"],"scale":{"type":"band","paddingInner":0,"paddingOuter":0.1875}}}},
   {"transform":[{"filter":{"field":"k","equal":"x"}}],"mark":{"type":"rect","color":"#fff"},"encoding":{"y2":{"field":"y2"}}},
   {"transform":[{"filter":{"field":"k","equal":"p"}}],"mark":{"type":"circle","size":28,"color":"#111","opacity":1},"encoding":{"x":{"field":"g","type":"nominal","title":null,"sort":["HC","COVID-19"],"scale":{"type":"band","paddingInner":0,"paddingOuter":0.1875}}}}
  ]}
 ]},
{"title":{"text":"c","anchor":"start","frame":"bounds","fontSize":35,"baseline":"top","offset":19},
 "spacing":29,
 "vconcat":[
 {"title":"C1q","width":114,"height":169,"transform":[{"filter":{"field":"p","equal":"C1q"}}],
  "encoding":{"y":{"field":"y","type":"quantitative","title":"MFI","scale":{"domain":[0,5000,16500,30000],"range":[169,86.5,82,0],"nice":false,"zero":false},"axis":{"values":[0,2000,4000,20000,25000,30000],"format":"d"}}},
  "layer":[
   {"transform":[{"filter":{"field":"k","equal":"w"}}],"mark":{"type":"rule","strokeWidth":2,"color":"#111"},"encoding":{"x":{"field":"g","type":"nominal","title":null,"sort":["HC","COVID-19"],"scale":{"type":"band","paddingInner":0,"paddingOuter":0.1875}},"y2":{"field":"y2"}}},
   {"transform":[{"filter":{"field":"k","equal":"b"}}],"mark":{"type":"bar","size":32,"fill":"#fff","stroke":"#111","strokeWidth":2},"encoding":{"x":{"field":"g","type":"nominal","title":null,"sort":["HC","COVID-19"],"scale":{"type":"band","paddingInner":0,"paddingOuter":0.1875}},"y2":{"field":"y2"}}},
   {"transform":[{"filter":{"field":"k","equal":"m"}}],"mark":{"type":"tick","size":32,"thickness":2,"color":"#111","opacity":1},"encoding":{"x":{"field":"g","type":"nominal","title":null,"sort":["HC","COVID-19"],"scale":{"type":"band","paddingInner":0,"paddingOuter":0.1875}}}},
   {"transform":[{"filter":{"field":"k","equal":"w"}}],"mark":{"type":"tick","size":14,"thickness":2,"color":"#111","opacity":1},"encoding":{"x":{"field":"g","type":"nominal","title":null,"sort":["HC","COVID-19"],"scale":{"type":"band","paddingInner":0,"paddingOuter":0.1875}}}},
   {"transform":[{"filter":{"field":"k","equal":"x"}}],"mark":{"type":"rect","color":"#fff"},"encoding":{"y2":{"field":"y2"}}},
   {"transform":[{"filter":{"field":"k","equal":"p"}}],"mark":{"type":"circle","size":28,"color":"#111","opacity":1},"encoding":{"x":{"field":"g","type":"nominal","title":null,"sort":["HC","COVID-19"],"scale":{"type":"band","paddingInner":0,"paddingOuter":0.1875}}}}
  ]},
 {"title":"BPI","width":114,"height":169,"transform":[{"filter":{"field":"p","equal":"BPI"}}],
  "encoding":{"y":{"field":"y","type":"quantitative","title":"MFI","scale":{"domain":[0,6000,13800,60000],"range":[169,86.5,82,0],"nice":false,"zero":false},"axis":{"values":[0,5000,20000,40000,60000],"format":"d"}}},
  "layer":[
   {"transform":[{"filter":{"field":"k","equal":"w"}}],"mark":{"type":"rule","strokeWidth":2,"color":"#111"},"encoding":{"x":{"field":"g","type":"nominal","title":null,"sort":["HC","COVID-19"],"scale":{"type":"band","paddingInner":0,"paddingOuter":0.1875}},"y2":{"field":"y2"}}},
   {"transform":[{"filter":{"field":"k","equal":"b"}}],"mark":{"type":"bar","size":32,"fill":"#fff","stroke":"#111","strokeWidth":2},"encoding":{"x":{"field":"g","type":"nominal","title":null,"sort":["HC","COVID-19"],"scale":{"type":"band","paddingInner":0,"paddingOuter":0.1875}},"y2":{"field":"y2"}}},
   {"transform":[{"filter":{"field":"k","equal":"m"}}],"mark":{"type":"tick","size":32,"thickness":2,"color":"#111","opacity":1},"encoding":{"x":{"field":"g","type":"nominal","title":null,"sort":["HC","COVID-19"],"scale":{"type":"band","paddingInner":0,"paddingOuter":0.1875}}}},
   {"transform":[{"filter":{"field":"k","equal":"w"}}],"mark":{"type":"tick","size":14,"thickness":2,"color":"#111","opacity":1},"encoding":{"x":{"field":"g","type":"nominal","title":null,"sort":["HC","COVID-19"],"scale":{"type":"band","paddingInner":0,"paddingOuter":0.1875}}}},
   {"transform":[{"filter":{"field":"k","equal":"x"}}],"mark":{"type":"rect","color":"#fff"},"encoding":{"y2":{"field":"y2"}}},
   {"transform":[{"filter":{"field":"k","equal":"p"}}],"mark":{"type":"circle","size":28,"color":"#111","opacity":1},"encoding":{"x":{"field":"g","type":"nominal","title":null,"sort":["HC","COVID-19"],"scale":{"type":"band","paddingInner":0,"paddingOuter":0.1875}}}}
  ]},
 {"title":"Beta 2 Glycoprotein 1","width":114,"height":169,"transform":[{"filter":{"field":"p","equal":"Beta 2 Glycoprotein 1"}}],
  "encoding":{"y":{"field":"y","type":"quantitative","title":"MFI","scale":{"domain":[0,15000],"range":[169,0],"nice":false,"zero":false},"axis":{"values":[0,5000,10000,15000],"format":"d"}}},
  "layer":[
   {"transform":[{"filter":{"field":"k","equal":"w"}}],"mark":{"type":"rule","strokeWidth":2,"color":"#111"},"encoding":{"x":{"field":"g","type":"nominal","title":null,"sort":["HC","COVID-19"],"scale":{"type":"band","paddingInner":0,"paddingOuter":0.1875}},"y2":{"field":"y2"}}},
   {"transform":[{"filter":{"field":"k","equal":"b"}}],"mark":{"type":"bar","size":32,"fill":"#fff","stroke":"#111","strokeWidth":2},"encoding":{"x":{"field":"g","type":"nominal","title":null,"sort":["HC","COVID-19"],"scale":{"type":"band","paddingInner":0,"paddingOuter":0.1875}},"y2":{"field":"y2"}}},
   {"transform":[{"filter":{"field":"k","equal":"m"}}],"mark":{"type":"tick","size":32,"thickness":2,"color":"#111","opacity":1},"encoding":{"x":{"field":"g","type":"nominal","title":null,"sort":["HC","COVID-19"],"scale":{"type":"band","paddingInner":0,"paddingOuter":0.1875}}}},
   {"transform":[{"filter":{"field":"k","equal":"w"}}],"mark":{"type":"tick","size":14,"thickness":2,"color":"#111","opacity":1},"encoding":{"x":{"field":"g","type":"nominal","title":null,"sort":["HC","COVID-19"],"scale":{"type":"band","paddingInner":0,"paddingOuter":0.1875}}}},
   {"transform":[{"filter":{"field":"k","equal":"x"}}],"mark":{"type":"rect","color":"#fff"},"encoding":{"y2":{"field":"y2"}}},
   {"transform":[{"filter":{"field":"k","equal":"p"}}],"mark":{"type":"circle","size":28,"color":"#111","opacity":1},"encoding":{"x":{"field":"g","type":"nominal","title":null,"sort":["HC","COVID-19"],"scale":{"type":"band","paddingInner":0,"paddingOuter":0.1875}}}}
  ]}
 ]}
],
"config":{
 "view":{"stroke":null},
 "font":"Liberation Sans",
 "title":{"fontSize":13,"fontWeight":"bold","color":"#000","offset":7,"anchor":"middle","frame":"group","font":"Liberation Sans"},
 "axis":{"labelFont":"Liberation Sans","titleFont":"Liberation Sans","labelFontWeight":"bold","titleFontWeight":"bold","labelColor":"#000","titleColor":"#000","domainColor":"#000","tickColor":"#000","grid":false,"labelFontSize":11.5,"titleFontSize":12},
 "axisX":{"ticks":false,"labelAngle":0,"labelPadding":4,"domainWidth":1.2},
 "axisY":{"tickSize":3,"labelPadding":2,"minExtent":36,"maxExtent":36,"titlePadding":0,"labelOverlap":false,"domainWidth":1.2}
}
}
